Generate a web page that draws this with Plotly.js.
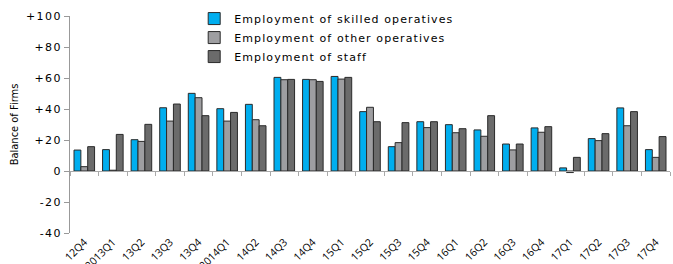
<!DOCTYPE html>
<html><head><meta charset="utf-8">
<script src="https://cdn.plot.ly/plotly-3.0.1.min.js"></script>
<style>
html,body{margin:0;padding:0;background:#fff}
.legendtext{letter-spacing:1.1px}
.ytick text{letter-spacing:1.4px}
</style>
</head><body>
<div id="chart" style="width:673px;height:264px"></div>
<script>
const categories = ["12Q4","2013Q1","13Q2","13Q3","13Q4","2014Q1","14Q2","14Q3","14Q4","15Q1","15Q2","15Q3","15Q4","16Q1","16Q2","16Q3","16Q4","17Q1","17Q2","17Q3","17Q4"];
const skilled = [13.5,13.8,20.2,40.8,50.1,40.2,43,60.4,59.1,61,38.3,15.7,31.8,29.9,26.5,17.4,27.8,2,20.9,40.7,13.8];
const otherOps = [2.8,0.5,19.1,32.2,47.3,32.2,33.1,58.9,58.9,59.3,41.1,18.3,28,24.7,22.4,13.6,25,-1,19.6,29.2,8.8];
const staff = [15.7,23.6,30.1,43.2,35.7,37.8,29.2,59.1,57.8,60.4,31.8,31.2,31.8,27.3,35.7,17.4,28.6,8.8,24.1,38.3,22.2];
const seriesNames = ["Employment of skilled operatives","Employment of other operatives","Employment of staff"];
const yTickVals = [-40,-20,0,20,40,60,80,100];
const yTickText = ["-40","-20","0","+20","+40","+60","+80","+100"];

const colors = ["#00aeef","#9e9ea1","#6b6b6b"];
const mk = (name, y, c) => ({type:'bar', name:name, x:categories, y:y,
  marker:{color:c, line:{color:'#2a2a2a', width:1}}});
const data = [mk(seriesNames[0], skilled, colors[0]), mk(seriesNames[1], otherOps, colors[1]), mk(seriesNames[2], staff, colors[2]),
  {type:'scatter', x:categories, y:categories.map(()=>null), xaxis:'x2', showlegend:false, hoverinfo:'skip', mode:'lines'}];

const xr = [-0.5, categories.length - 0.5];
const layout = {
  width:673, height:264,
  margin:{l:70, r:3, t:16, b:31},
  paper_bgcolor:'#fff', plot_bgcolor:'#fff',
  barmode:'group', bargap:0.28, bargroupgap:0,
  font:{family:'DejaVu Sans', color:'#000'},
  xaxis:{type:'category', categoryorder:'array', categoryarray:categories, range:xr,
    showline:false, ticks:'', tickangle:-45, showgrid:false, zeroline:false,
    tickfont:{family:'Open Sans', size:10.5, color:'#000'}},
  xaxis2:{matches:'x', overlaying:'x', anchor:'free', position:40/140, type:'category', range:xr,
    showline:true, linecolor:'#aaaaaa', linewidth:1, ticks:'outside', tickson:'boundaries',
    ticklen:4, tickcolor:'#aaaaaa', showticklabels:false, showgrid:false, zeroline:false},
  yaxis:{range:[-40,100], tickvals:yTickVals, ticktext:yTickText, ticks:'outside', ticklen:5,
    tickcolor:'#999', showline:true, linecolor:'#999', linewidth:1, showgrid:false, zeroline:false,
    tickfont:{family:'DejaVu Sans', size:11, color:'#000'},
    title:{text:'Balance of Firms', font:{family:'DejaVu Sans Condensed, Liberation Sans', size:11, color:'#000'}, standoff:5}},
  legend:{x:0.207, y:1.055, xanchor:'left', yanchor:'top', bgcolor:'rgba(0,0,0,0)',
    font:{family:'DejaVu Sans', size:11, color:'#000'}, tracegroupgap:0, itemwidth:30},
  showlegend:true
};
Plotly.newPlot('chart', data, layout, {displayModeBar:false, staticPlot:true});
</script>
</body></html>
